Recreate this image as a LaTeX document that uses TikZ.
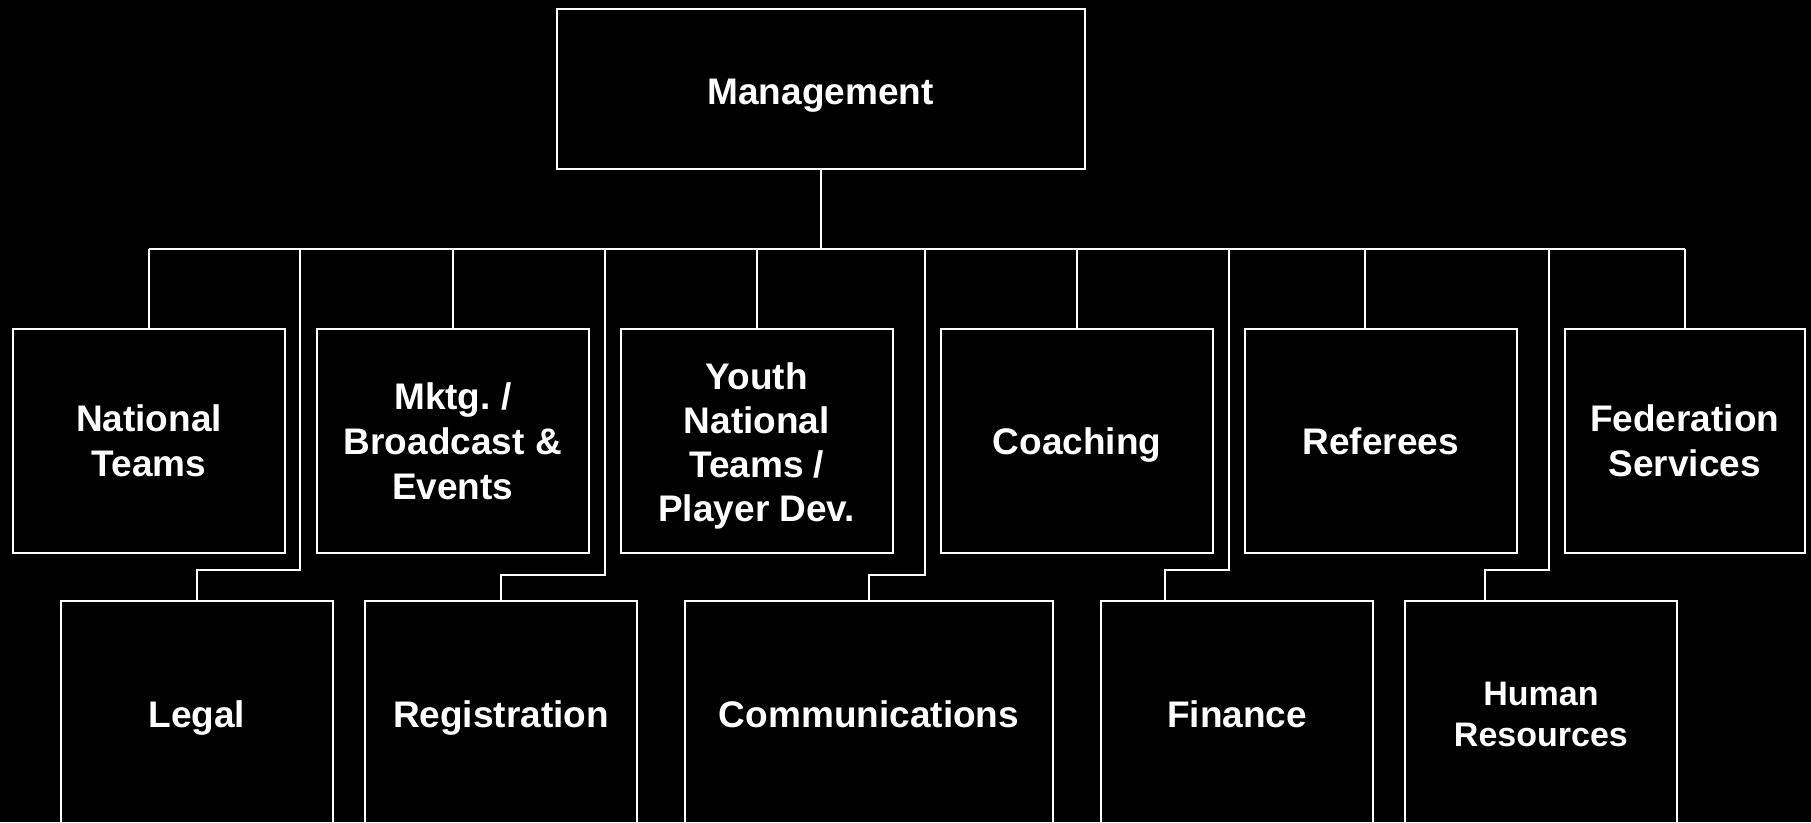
\documentclass[tikz,border=0pt]{standalone}
\usepackage{fontspec}
\setmainfont{Liberation Sans}
\frenchspacing
\tikzset{
  unit/.style={draw=white, line width=2pt, text=white, align=center,
    font=\bfseries\fontsize{37}{45}\selectfont, inner sep=0pt},
  oneline/.style={text depth=0pt},
  toprow/.style={unit, minimum width=272pt, minimum height=224pt},
  lowrow/.style={unit, minimum width=272pt, minimum height=228pt},
  link/.style={draw=white, line width=2pt}
}
\begin{document}
\begin{tikzpicture}[x=1pt, y=-1pt]
        \fill[black] (0,0) rectangle (1811,822);
        \useasboundingbox (0,0) rectangle (1811,822);

        \node[unit, oneline, text height=30pt, minimum width=528pt, minimum height=160pt] (mgmt) at (820.5, 89) {Management};

        % first row
        \node[toprow] (nat) at (149, 441) {National\\Teams};
        \node[toprow] (mktg) at (452.8, 441) {Mktg. /\\Broadcast \&\\Events};
        \node[toprow, font=\bfseries\fontsize{37}{44}\selectfont] (youth) at (756.7, 441) {\rule{0pt}{36pt}Youth\\National\\Teams /\\Player Dev.};
        \node[toprow, oneline] (coach) at (1077, 441) {Coaching};
        \node[toprow, oneline] (ref) at (1380.8, 441) {Referees};
        \node[toprow, minimum width=240pt] (fed) at (1684.7, 441) {Federation\\Services};

        % second row
        \node[lowrow, oneline] (legal) at (196.8, 714.5) {Legal};
        \node[lowrow, oneline] (reg) at (501, 714.5) {Registration};
        \node[lowrow, oneline, minimum width=368pt] (comm) at (869, 714.5) {Communications};
        \node[lowrow, oneline] (fin) at (1237, 714.5) {Finance};
        \node[lowrow, font=\bfseries\fontsize{34}{41.5}\selectfont] (hr) at (1540.9, 714.5) {Human\\Resources};

        % bus
        \coordinate (busL) at (149, 248.5);
        \coordinate (busR) at (1685, 248.5);
        \draw[link] (busL) -- (busR);
        \draw[link] (mgmt.south) -- (mgmt.south |- busL);

        \draw[link] (nat.north) -- (nat.north |- busL);
        \draw[link] (mktg.north) -- (mktg.north |- busL);
        \draw[link] (youth.north) -- (youth.north |- busL);
        \draw[link] (coach.north) -- (coach.north |- busL);
        \draw[link] ([xshift=-15.6pt]ref.north) -- ([xshift=-15.6pt]ref.north |- busL);
        \draw[link] (fed.north) -- (fed.north |- busL);

        % elbows to the second row
        \coordinate (kLegal) at (300.3, 570);
        \coordinate (kReg) at (605, 575);
        \coordinate (kComm) at (925, 575);
        \coordinate (kFin) at (1229, 570);
        \coordinate (kHr) at (1549, 570);
        \draw[link] (legal.north) |- (kLegal) -- (kLegal |- busL);
        \draw[link] (reg.north) |- (kReg) -- (kReg |- busL);
        \draw[link] (comm.north) |- (kComm) -- (kComm |- busL);
        \draw[link] ([xshift=-72pt]fin.north) |- (kFin) -- (kFin |- busL);
        \draw[link] ([xshift=-56pt]hr.north) |- (kHr) -- (kHr |- busL);
\end{tikzpicture}
\end{document}
